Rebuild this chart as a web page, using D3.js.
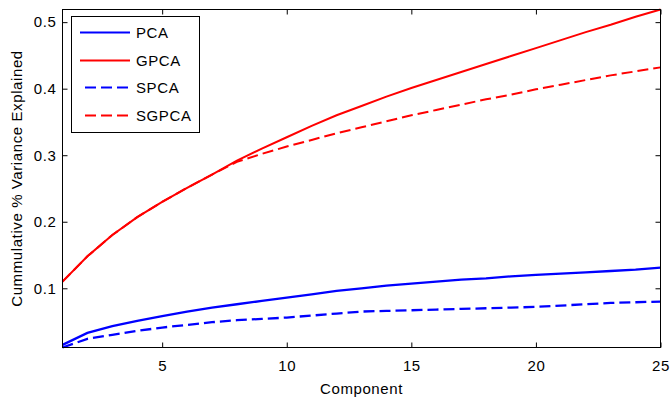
<!DOCTYPE html>
<html><head><meta charset="utf-8">
<script src="https://cdn.jsdelivr.net/npm/d3@7"></script>
<style>body{margin:0;background:#fff}svg{display:block}text{font-family:"Liberation Sans",Arial,sans-serif;letter-spacing:0.6px}</style>
</head><body><svg id="c" width="670" height="401"></svg>
<script>
const components = d3.range(1, 26);
const pca   = [0.015,0.033,0.043,0.051,0.058,0.065,0.071,0.076,0.081,0.086,0.091,0.096,0.100,0.104,0.107,0.110,0.113,0.115,0.118,0.120,0.122,0.124,0.126,0.128,0.131];
const gpca  = [0.110,0.148,0.180,0.207,0.230,0.251,0.271,0.292,0.310,0.327,0.344,0.360,0.374,0.388,0.401,0.413,0.425,0.437,0.449,0.461,0.473,0.485,0.496,0.508,0.519];
const spca  = [0.011,0.024,0.030,0.036,0.041,0.045,0.049,0.052,0.054,0.056,0.059,0.062,0.065,0.066,0.067,0.068,0.069,0.070,0.071,0.072,0.074,0.076,0.078,0.079,0.080];
const sgpca = [0.110,0.148,0.180,0.207,0.230,0.251,0.271,0.290,0.302,0.313,0.323,0.333,0.342,0.351,0.360,0.368,0.376,0.384,0.391,0.399,0.406,0.413,0.420,0.426,0.432];
const xTicks = [5,10,15,20,25];
const yTicks = [0.1,0.2,0.3,0.4,0.5];
const seriesNames = ["PCA","GPCA","SPCA","SGPCA"];
const seriesData = [pca, gpca, spca, sgpca];
const seriesColors = ["#0000ff","#ff0000","#0000ff","#ff0000"];
const seriesDashed = [false,false,true,true];

const L = 62.5, R = 660.5, T = 9.5, B = 347.5;
const svg = d3.select("#c");
const x = d3.scaleLinear().domain([1,25]).range([L,R]);
const y = d3.scaleLinear().domain([0.011,0.519]).range([B,T]);

const line = d3.line().x((d,i)=>x(components[i])).y(d=>y(d));
const g = svg.append("g");
seriesData.forEach((s,k)=>{
  g.append("path").attr("d", line(s)).attr("fill","none")
   .attr("stroke", seriesColors[k]).attr("stroke-width", k===0||k===2 ? 2.3 : 2)
   .attr("stroke-dasharray", seriesDashed[k] ? "11,5" : null);
});

svg.append("rect").attr("x",L).attr("y",T).attr("width",R-L).attr("height",B-T)
  .attr("fill","none").attr("stroke","#000").attr("stroke-width",1);

const fs = 15;
const axB = svg.append("g").attr("transform",`translate(0,${B})`)
  .call(d3.axisBottom(x).tickValues(xTicks).tickSizeInner(-5).tickSizeOuter(0).tickPadding(13));
const axT = svg.append("g").attr("transform",`translate(0,${T})`)
  .call(d3.axisTop(x).tickValues(xTicks).tickSizeInner(-5).tickSizeOuter(0).tickFormat(""));
const axL = svg.append("g").attr("transform",`translate(${L},0)`)
  .call(d3.axisLeft(y).tickValues(yTicks).tickSizeInner(-5).tickSizeOuter(0).tickPadding(6).tickFormat(d3.format(".1f")));
const axR = svg.append("g").attr("transform",`translate(${R},0)`)
  .call(d3.axisRight(y).tickValues(yTicks).tickSizeInner(-5).tickSizeOuter(0).tickFormat(""));
[axB,axT,axL,axR].forEach(a=>{
  a.select(".domain").remove();
  a.selectAll("line").attr("stroke","#000");
  a.selectAll("text").attr("font-size",fs).attr("fill","#000").style("font-family",'"Liberation Sans",Arial,sans-serif');
});

svg.append("text").attr("x",(L+R)/2).attr("y",394).attr("text-anchor","middle")
  .attr("font-size",fs).text("Component");
svg.append("text").attr("transform",`translate(22,${(T+B)/2}) rotate(-90)`).attr("text-anchor","middle")
  .attr("font-size",fs).text("Cummulative % Variance Explained");

const lg = svg.append("g");
lg.append("rect").attr("x",71.5).attr("y",16.5).attr("width",128).attr("height",116)
  .attr("fill","#fff").attr("stroke","#000").attr("stroke-width",1);
const ly = [32.5,60.5,87.5,115.5];
seriesNames.forEach((n,k)=>{
  lg.append("line").attr("x1", seriesDashed[k]?85:80).attr("x2",130).attr("y1",ly[k]).attr("y2",ly[k])
    .attr("stroke",seriesColors[k]).attr("stroke-width",2)
    .attr("stroke-dasharray", seriesDashed[k] ? "11,5" : null);
  lg.append("text").attr("x",136).attr("y",ly[k]+5.5).attr("font-size",fs).text(n);
});
</script></body></html>
